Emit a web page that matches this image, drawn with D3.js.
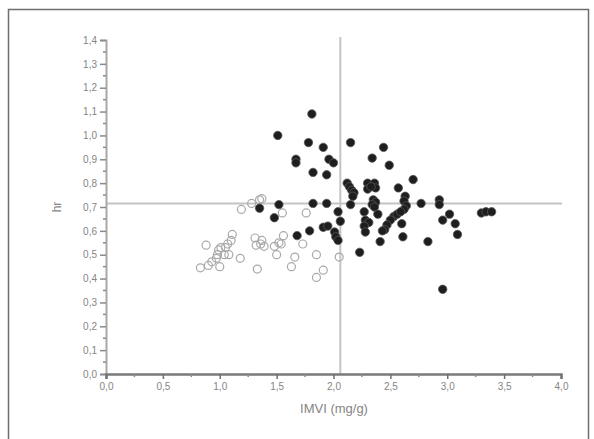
<!DOCTYPE html>
<html><head><meta charset="utf-8">
<script src="https://cdn.jsdelivr.net/npm/d3@7"></script>
<style>body{margin:0;background:#fff}svg{display:block}</style>
</head><body>
<svg id="c" width="594" height="439"></svg>
<script>
const xTicks = [0, 0.5, 1, 1.5, 2, 2.5, 3, 3.5, 4];
const yTicks = [0, 0.1, 0.2, 0.3, 0.4, 0.5, 0.6, 0.7, 0.8, 0.9, 1.0, 1.1, 1.2, 1.3, 1.4];
const xLabel = "IMVI (mg/g)";
const yLabel = "hr";
const refX = 2.06;
const refY = 0.715;

const filledX = [1.81,1.51,1.78,1.91,2.15,2.44,1.67,1.67,1.96,2.00,2.34,2.49,1.82,1.94,2.70,
  2.12,2.14,2.16,2.18,2.17,2.30,2.36,2.30,2.37,2.33,2.57,2.35,2.37,2.34,2.36,
  1.82,1.94,2.15,1.52,1.35,2.77,2.93,2.93,2.63,2.62,2.64,2.62,
  1.48,2.04,2.06,2.27,2.28,2.31,2.27,2.39,2.53,2.56,2.59,2.50,2.47,2.45,2.43,2.60,
  2.96,3.02,3.07,3.09,3.30,3.34,3.39,
  1.68,1.79,1.91,1.95,2.01,2.02,2.04,2.28,2.41,2.61,2.83,2.23,2.96];
const filledY = [1.09,1.00,0.97,0.95,0.97,0.95,0.90,0.885,0.90,0.885,0.905,0.875,0.845,0.835,0.815,
  0.80,0.785,0.77,0.76,0.745,0.80,0.80,0.775,0.78,0.785,0.78,0.73,0.72,0.71,0.70,
  0.715,0.715,0.71,0.71,0.695,0.715,0.73,0.71,0.745,0.725,0.705,0.69,
  0.655,0.68,0.64,0.68,0.645,0.635,0.62,0.67,0.66,0.67,0.68,0.645,0.625,0.605,0.60,0.63,
  0.645,0.67,0.63,0.585,0.675,0.68,0.68,
  0.58,0.60,0.615,0.62,0.595,0.575,0.56,0.595,0.555,0.575,0.555,0.51,0.355];

const openX = [0.83,0.88,0.90,0.93,0.97,0.98,0.99,1.00,1.01,1.04,1.05,1.07,1.08,1.10,1.11,1.18,1.19,
  1.28,1.35,1.37,1.33,1.31,1.32,1.36,1.37,1.39,1.48,1.52,1.54,1.56,1.50,1.55,1.63,1.66,1.73,1.76,
  1.85,1.85,1.91,2.05];
const openY = [0.445,0.54,0.455,0.47,0.485,0.50,0.52,0.45,0.53,0.50,0.53,0.545,0.50,0.56,0.585,0.485,0.69,
  0.715,0.73,0.735,0.44,0.57,0.54,0.545,0.56,0.535,0.535,0.55,0.545,0.58,0.50,0.675,0.45,0.49,0.545,0.675,
  0.50,0.405,0.435,0.49];

const svg = d3.select("#c");
const x = d3.scaleLinear().domain([0, 4]).range([106, 561]);
const y = d3.scaleLinear().domain([0, 1.4]).range([374, 40]);
const fmt = d => d3.format(".1f")(d).replace(".", ",");
const axisCol = "#8a8a8a", textCol = "#858585";
const tickFont = "10px 'Liberation Sans', Arial, sans-serif";

// frame
svg.append("rect").attr("x", 8.5).attr("y", 9.5).attr("width", 580).attr("height", 440)
  .attr("fill", "none").attr("stroke", "#6e6e6e").attr("stroke-width", 1.5);

// reference lines
svg.append("line").attr("x1", x(refX)).attr("x2", x(refX)).attr("y1", 37).attr("y2", y(0))
  .attr("stroke", "#c4c4c4").attr("stroke-width", 2);
svg.append("line").attr("x1", x(0)).attr("x2", 562).attr("y1", y(refY)).attr("y2", y(refY))
  .attr("stroke", "#c4c4c4").attr("stroke-width", 2);

// y axis
const ya = svg.append("g").attr("transform", `translate(${x(0)},0)`)
  .call(d3.axisLeft(y).tickValues(yTicks).tickFormat(fmt).tickSize(6).tickPadding(3));
ya.select(".domain").attr("stroke", "#a8a8a8").attr("stroke-width", 2);
ya.selectAll(".tick line").attr("stroke", axisCol).attr("stroke-width", 1.5);
ya.selectAll("text").attr("fill", textCol).style("font", tickFont);
const yMinor = d3.range(0.05, 1.4, 0.1);
svg.append("g").selectAll("line").data(yMinor).join("line")
  .attr("x1", x(0) - 3).attr("x2", x(0)).attr("y1", d => y(d)).attr("y2", d => y(d))
  .attr("stroke", axisCol).attr("stroke-width", 1.5);

// x axis
const xa = svg.append("g").attr("transform", `translate(0,${y(0)})`)
  .call(d3.axisBottom(x).tickValues(xTicks).tickFormat(fmt).tickSize(5).tickPadding(4));
xa.select(".domain").attr("stroke", "#7a7a7a").attr("stroke-width", 2.5);
xa.selectAll(".tick line").attr("stroke", "#6e6e6e").attr("stroke-width", 1.5);
xa.selectAll("text").attr("fill", textCol).style("font", tickFont);
const xMinor = d3.range(0.25, 4, 0.5);
svg.append("g").selectAll("line").data(xMinor).join("line")
  .attr("x1", d => x(d)).attr("x2", d => x(d)).attr("y1", y(0)).attr("y2", y(0) + 3)
  .attr("stroke", axisCol).attr("stroke-width", 1.5);

// labels
svg.append("text").attr("x", 334).attr("y", 413).attr("text-anchor", "middle")
  .attr("fill", "#858585").style("font", "13px 'Liberation Sans', Arial, sans-serif").text(xLabel);
svg.append("text").attr("transform", "translate(61,207) rotate(-90)").attr("text-anchor", "middle")
  .attr("fill", "#858585").style("font", "12px 'Liberation Sans', Arial, sans-serif").text(yLabel);

// open points
svg.append("g").selectAll("circle").data(openX.map((v, i) => [v, openY[i]])).join("circle")
  .attr("cx", d => x(d[0])).attr("cy", d => y(d[1])).attr("r", 4)
  .attr("fill", "none").attr("stroke", "#a9a9a9").attr("stroke-width", 1.2);

// filled points
svg.append("g").selectAll("circle").data(filledX.map((v, i) => [v, filledY[i]])).join("circle")
  .attr("cx", d => x(d[0])).attr("cy", d => y(d[1])).attr("r", 4.2)
  .attr("fill", "#1e1e1e").attr("stroke", "#555").attr("stroke-width", 0.8);
</script>
</body></html>
